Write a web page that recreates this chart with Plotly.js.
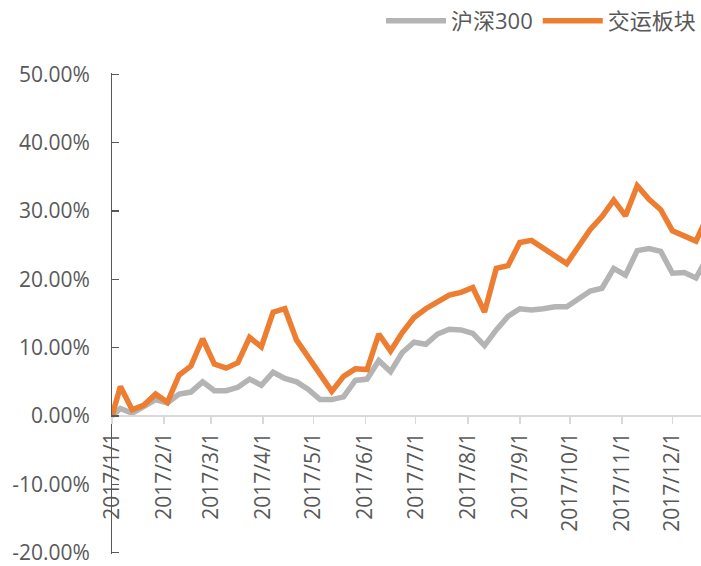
<!DOCTYPE html>
<html>
<head>
<meta charset="utf-8">
<script src="https://cdn.plot.ly/plotly-3.0.1.min.js"></script>
<style>
html,body{margin:0;padding:0;background:#fff;}
#chart{width:701px;height:566px;}
</style>
</head>
<body>
<div id="chart"></div>
<script>
const dates = ['2017-01-01','2017-01-06','2017-01-13','2017-01-20','2017-01-27','2017-02-03','2017-02-10','2017-02-17','2017-02-24','2017-03-03','2017-03-10','2017-03-17','2017-03-24','2017-03-31','2017-04-07','2017-04-14','2017-04-21','2017-04-28','2017-05-05','2017-05-12','2017-05-19','2017-05-26','2017-06-02','2017-06-09','2017-06-16','2017-06-23','2017-06-30','2017-07-07','2017-07-14','2017-07-21','2017-07-28','2017-08-04','2017-08-11','2017-08-18','2017-08-25','2017-09-01','2017-09-08','2017-09-15','2017-09-22','2017-09-29','2017-10-06','2017-10-13','2017-10-20','2017-10-27','2017-11-03','2017-11-10','2017-11-17','2017-11-24','2017-12-01','2017-12-08','2017-12-15','2017-12-22'];

const hs300 = [0.000,0.011,0.004,0.015,0.024,0.019,0.032,0.035,0.050,0.037,0.037,0.042,0.054,0.045,0.064,0.055,0.050,0.039,0.024,0.024,0.028,0.052,0.054,0.081,0.065,0.093,0.108,0.105,0.120,0.127,0.126,0.121,0.103,0.126,0.146,0.157,0.155,0.157,0.160,0.160,0.172,0.183,0.187,0.216,0.206,0.242,0.245,0.241,0.209,0.210,0.202,0.233];

const transport = [0.000,0.043,0.009,0.016,0.032,0.020,0.060,0.073,0.113,0.076,0.070,0.078,0.115,0.101,0.152,0.157,0.111,0.085,0.060,0.036,0.058,0.069,0.068,0.120,0.095,0.122,0.144,0.157,0.167,0.177,0.181,0.188,0.152,0.216,0.220,0.254,0.257,0.246,0.233,0.223,0.248,0.273,0.292,0.316,0.293,0.337,0.317,0.302,0.271,0.263,0.256,0.293];

const seriesNames = ['沪深300','交运板块'];
const yTickVals = [-0.2,-0.1,0,0.1,0.2,0.3,0.4,0.5];
const yTickText = ['-20.00%','-10.00%','0.00%','10.00%','20.00%','30.00%','40.00%','50.00%'];

const FONT = 'Open Sans, Noto Sans CJK SC, sans-serif';
const TXT = '#595959';
const Y0 = -0.202, Y1 = 0.502;

const traces = [
  {x: dates, y: hs300, name: seriesNames[0], type: 'scatter', mode: 'lines',
   line: {color: '#b4b4b4', width: 5.5}},
  {x: dates, y: transport, name: seriesNames[1], type: 'scatter', mode: 'lines',
   line: {color: '#ed7d31', width: 5.5}}
];

const layout = {
  width: 701, height: 566,
  margin: {l: 112, r: 0, t: 73, b: 12},
  paper_bgcolor: '#fff', plot_bgcolor: '#fff',
  font: {family: FONT, color: TXT, size: 21},
  showlegend: true,
  legend: {orientation: 'h', x: 1, xanchor: 'right', y: 1, yref: 'container', yanchor: 'top',
           font: {family: FONT, size: 22, color: TXT}, itemwidth: 60, traceorder: 'normal'},
  xaxis: {
    type: 'date',
    range: ['2017-01-01', '2017-12-18'],
    anchor: 'free', position: (0 - Y0) / (Y1 - Y0),
    showline: true, linecolor: '#d9d9d9', linewidth: 2,
    ticks: 'outside', ticklen: 7, tickcolor: '#d9d9d9', tickwidth: 1.5,
    tick0: '2017-01-01', dtick: 'M1', tickformat: '%Y/%-m/%-d',
    tickangle: -90, showgrid: false, zeroline: false,
    tickfont: {family: FONT, size: 21, color: TXT}
  },
  yaxis: {
    range: [Y0, Y1],
    tickmode: 'array', tickvals: yTickVals, ticktext: yTickText,
    showline: true, linecolor: '#595959', linewidth: 1,
    ticks: 'inside', ticklen: 7, tickcolor: '#595959', tickwidth: 1.3,
    ticklabelstandoff: 17, ticklabeloverflow: 'allow',
    showgrid: false, zeroline: false,
    tickfont: {family: FONT, size: 21, color: TXT}
  }
};

Plotly.newPlot('chart', traces, layout, {displayModeBar: false, staticPlot: true});
</script>
</body>
</html>
